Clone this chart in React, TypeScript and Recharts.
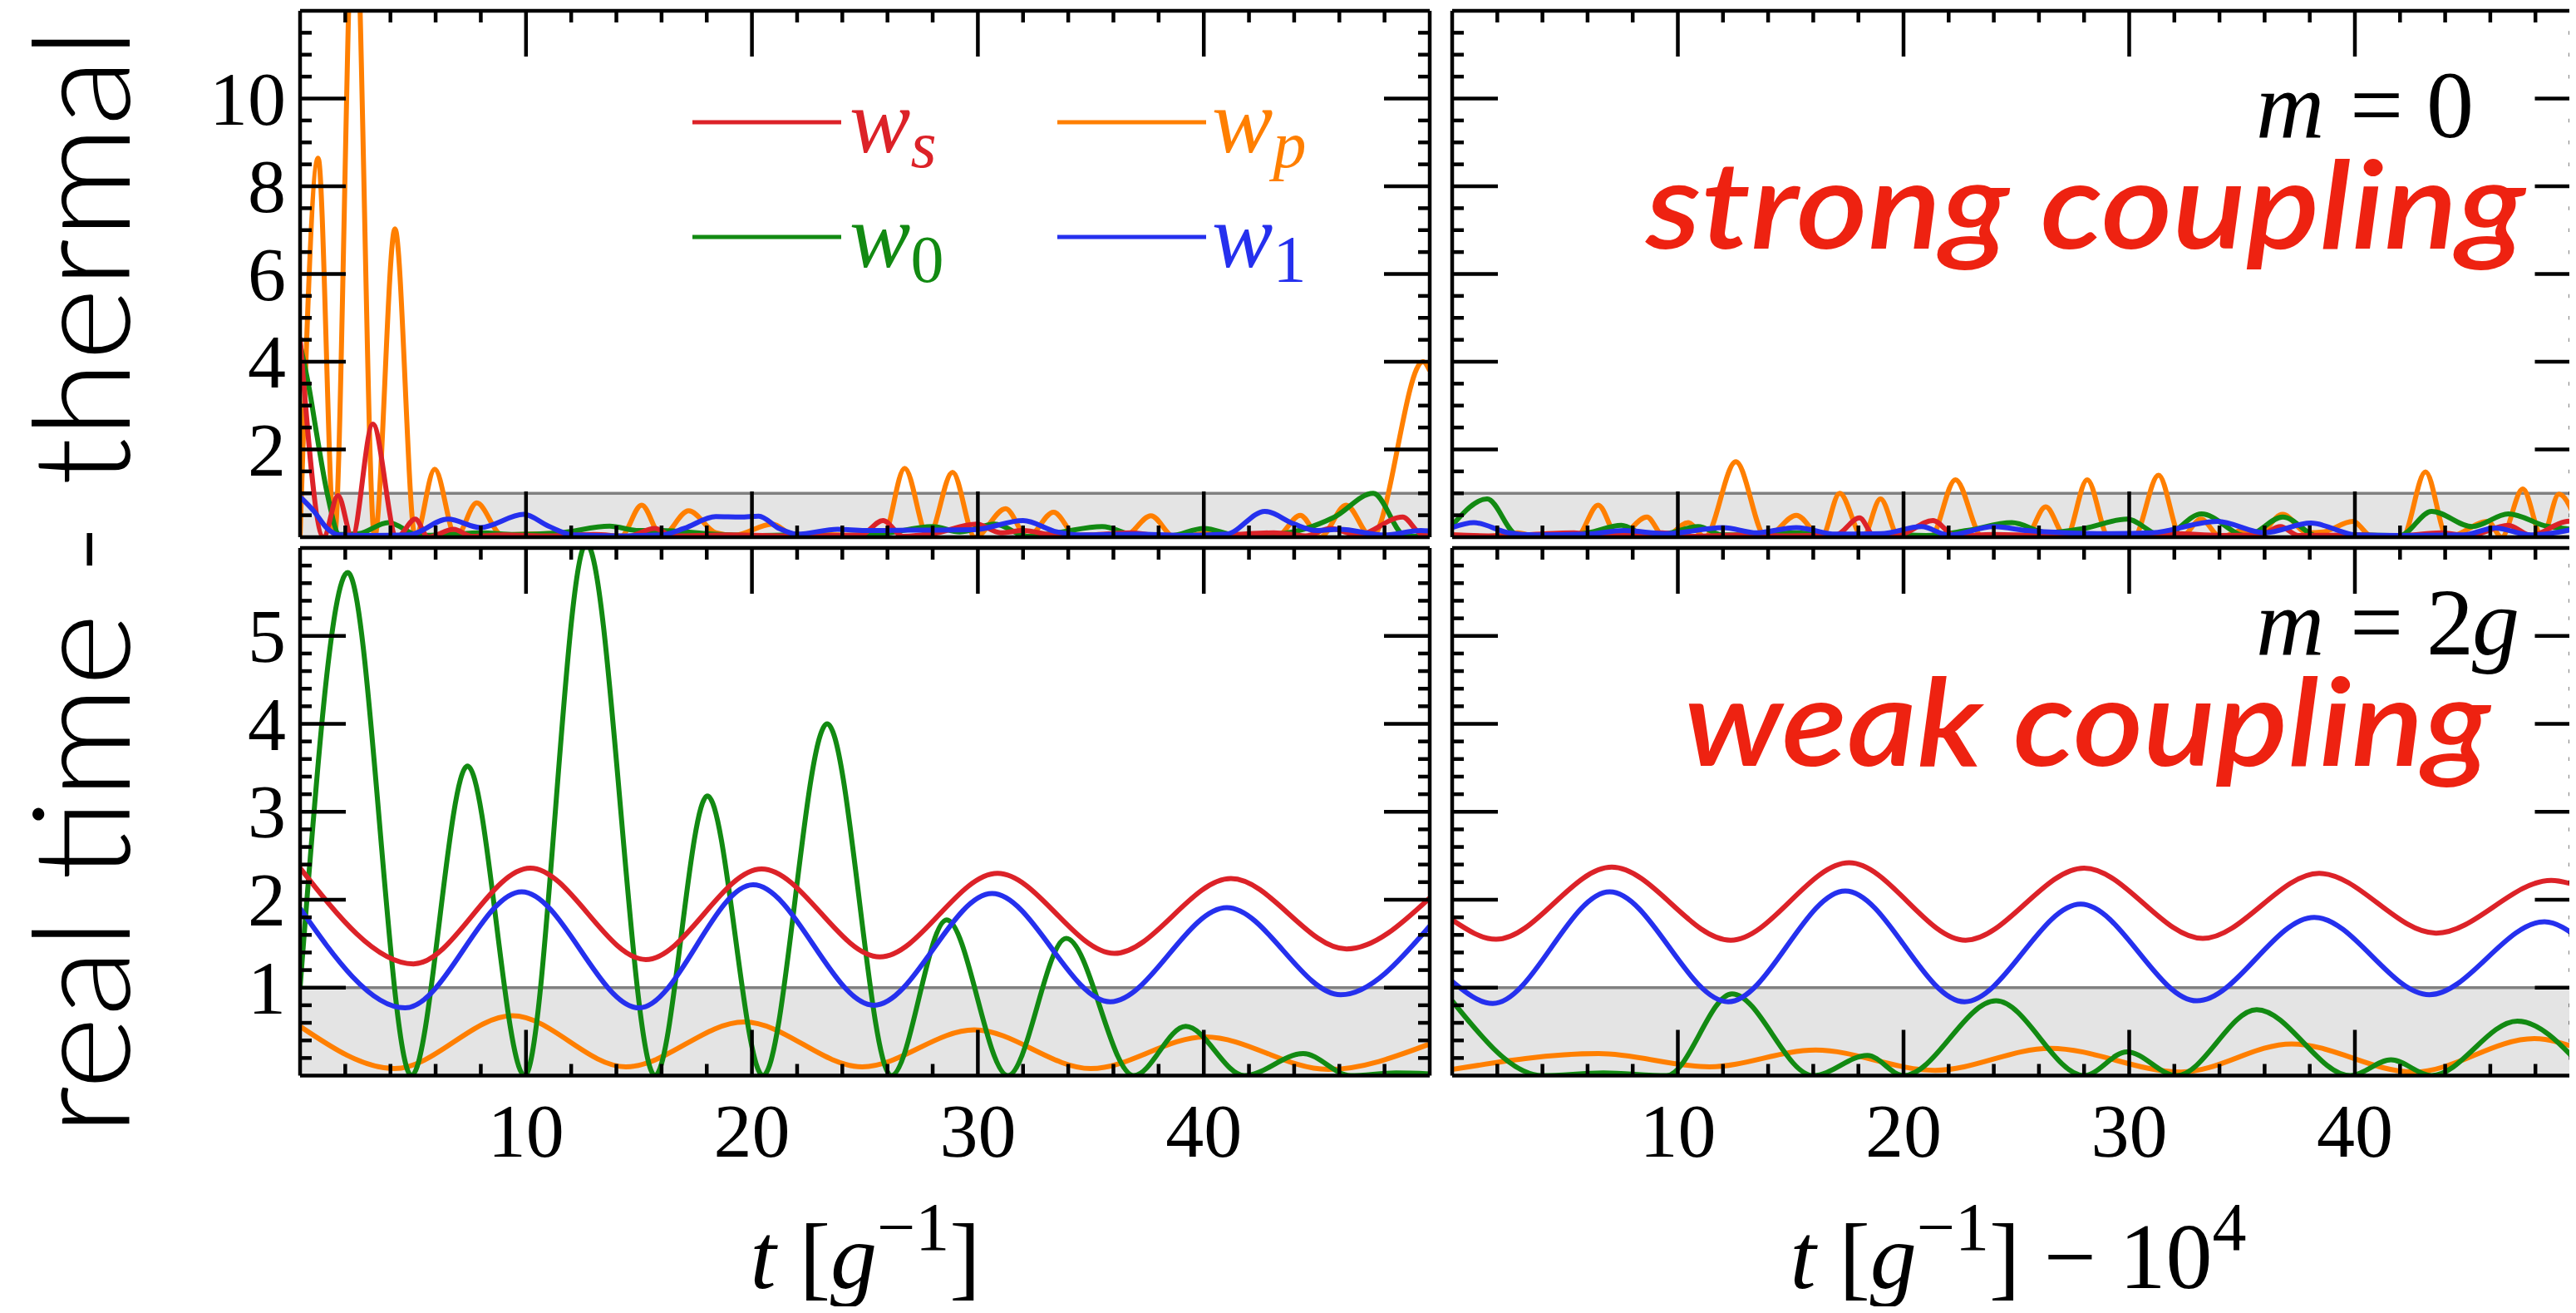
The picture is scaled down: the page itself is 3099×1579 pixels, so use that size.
import { LineChart, Line, XAxis, YAxis, ReferenceArea, ReferenceLine } from "recharts"

type Pt = [number, number]

const RED = "#dc2228"
const ORANGE = "#ff7f00"
const GREEN = "#128a12"
const BLUE = "#2530ee"
const TEXT_RED = "#ee2211"

// ---- tick values ----
const xTicks = [2, 4, 6, 8, 10, 12, 14, 16, 18, 20, 22, 24, 26, 28, 30, 32, 34, 36, 38, 40, 42, 44, 46, 48]
const xMajor = [10, 20, 30, 40]
const topYTicks = [0.5, 1, 1.5, 2, 2.5, 3, 3.5, 4, 4.5, 5, 5.5, 6, 6.5, 7, 7.5, 8, 8.5, 9, 9.5, 10, 10.5, 11, 11.5]
const topYMajor = [2, 4, 6, 8, 10]
const botYTicks = [0.2, 0.4, 0.6, 0.8, 1, 1.2, 1.4, 1.6, 1.8, 2, 2.2, 2.4, 2.6, 2.8, 3, 3.2, 3.4, 3.6, 3.8, 4, 4.2, 4.4, 4.6, 4.8, 5, 5.2, 5.4, 5.6, 5.8]
const botYMajor = [1, 2, 3, 4, 5]

// ---- m = 0, early times (top left) ----
const tlRed: Pt[] = [[0, 4.55], [1.04, 0], [1.68, 0.95], [2.3, 0], [3.22, 2.58], [4.28, 0], [5.1, 0.41], [5.67, 0], [6.8, 0.18], [7.6, 0.02], [9, 0.05], [11, 0.03], [13, 0.06], [14.5, 0.02], [15.7, 0.2], [16.5, 0.03], [19, 0.05], [22, 0.03], [24.8, 0.05], [25.8, 0.38], [26.7, 0.02], [28, 0.08], [29.95, 0.3], [31, 0.1], [32, 0.15], [33.5, 0.04], [35, 0.05], [36.8, 0.1], [38, 0.03], [41, 0.05], [43.1, 0.1], [44.5, 0.03], [45.6, 0.2], [46.8, 0.05], [48.8, 0.46], [49.6, 0.08], [50, 0.05]]
const tlOrange: Pt[] = [[0, 0], [0.8, 8.64], [1.52, 0], [2.4, 15], [3.3, 0], [4.2, 7.03], [5.1, 0], [5.96, 1.55], [6.9, 0], [7.82, 0.78], [8.94, 0.05], [11, 0.08], [12.5, 0.04], [14.2, 0.02], [15.12, 0.73], [16.0, 0.02], [17.2, 0.6], [18.4, 0.1], [19.2, 0.04], [20.9, 0.3], [21.9, 0.04], [23, 0.06], [25, 0.02], [25.8, 0], [26.76, 1.57], [27.8, 0], [28.88, 1.48], [29.87, 0], [31.23, 0.65], [32.2, 0], [33.35, 0.57], [34.4, 0], [36.5, 0.02], [37.66, 0.49], [38.7, 0], [40.4, 0.1], [42, 0.02], [43.2, 0], [44.27, 0.5], [45.15, 0], [46.3, 0.73], [47.43, 0], [49.7, 4.0], [50, 3.8]]
const tlGreen: Pt[] = [[0, 4.4], [0.4, 3.4], [0.72, 2.4], [1.2, 1.0], [1.75, 0.06], [2.6, 0.08], [3.9, 0.33], [5.3, 0.04], [6.5, 0.06], [8, 0.1], [9.5, 0.06], [11.5, 0.1], [13.7, 0.25], [15, 0.15], [16, 0.15], [18, 0.08], [20, 0.04], [22, 0.05], [24, 0.04], [25.5, 0.06], [28.0, 0.24], [29.2, 0.12], [30.75, 0.3], [32.2, 0.02], [33.5, 0.1], [35.5, 0.24], [37, 0.04], [38.5, 0.03], [40, 0.2], [41.5, 0.04], [43.4, 0.08], [45.75, 0.45], [47.5, 1.0], [48.95, 0.02], [50, 0.03]]
const tlBlue: Pt[] = [[0, 0.92], [0.6, 0.6], [1.2, 0.2], [1.75, 0.05], [3, 0.04], [4.8, 0.05], [6.55, 0.41], [7.98, 0.22], [9.9, 0.52], [11, 0.25], [12.1, 0.05], [14, 0.03], [16, 0.05], [17, 0.2], [18.4, 0.47], [19.5, 0.46], [20.3, 0.48], [21.2, 0.2], [22, 0.07], [23.8, 0.18], [25, 0.15], [27, 0.16], [29.8, 0.17], [32.0, 0.38], [33.5, 0.12], [34.6, 0.05], [37, 0.07], [39, 0.04], [41, 0.07], [42.7, 0.59], [44, 0.3], [45, 0.15], [46, 0.18], [48, 0.05], [49.6, 0.15], [50, 0.14]]

// ---- m = 0, late times (top right) ----
const trRed: Pt[] = [[0, 0.05], [2, 0.03], [5.4, 0.1], [6.5, 0.02], [9.3, 0.1], [10.5, 0.02], [13, 0.05], [15, 0.03], [17, 0.05], [18.05, 0.44], [18.7, 0.03], [19.8, 0.05], [21.3, 0.38], [22.3, 0.03], [24, 0.06], [26, 0.04], [28, 0.06], [30, 0.04], [32, 0.08], [34, 0.04], [35.8, 0.05], [36.7, 0.24], [37.5, 0.04], [40, 0.05], [42, 0.03], [43.8, 0.1], [45, 0.03], [46.8, 0.27], [47.8, 0.04], [49.3, 0.35], [50, 0.38]]
const trOrange: Pt[] = [[0, 0.05], [1.5, 0.02], [2.9, 0.1], [3.8, 0], [5.5, 0], [6.47, 0.73], [7.35, 0], [8.63, 0.46], [9.4, 0], [10.46, 0.33], [11.2, 0], [12.57, 1.72], [13.9, 0], [15.25, 0.5], [16.37, 0], [17.17, 1.0], [18.2, 0], [18.98, 0.87], [19.8, 0], [21.2, 0], [22.3, 1.31], [23.5, 0], [24.5, 0.02], [25.4, 0], [26.3, 0.69], [27.2, 0], [28.14, 1.31], [29.1, 0], [30.2, 0], [31.3, 1.41], [32.3, 0], [33.18, 0.41], [34.06, 0], [35, 0.15], [35.6, 0], [36.8, 0.52], [37.9, 0.1], [38.6, 0.12], [39.9, 0.36], [40.8, 0], [42.1, 0], [43.13, 1.49], [44.1, 0], [45.9, 0.36], [46.5, 0], [47.44, 1.1], [48.3, 0], [49.04, 0.98], [50, 0.1]]
const trGreen: Pt[] = [[0, 0.27], [1.55, 0.87], [2.9, 0.05], [4.5, 0.04], [6, 0.1], [7.5, 0.27], [8.6, 0.05], [9.5, 0.08], [10.9, 0.24], [12, 0.05], [13.5, 0.05], [15.25, 0.1], [17, 0.03], [19, 0.06], [21, 0.04], [22.8, 0.15], [24.8, 0.33], [26.4, 0.1], [28, 0.2], [29.9, 0.41], [31.5, 0.02], [33.2, 0.53], [35.2, 0.03], [36.8, 0.46], [38.4, 0.02], [40, 0.05], [42, 0.04], [43.4, 0.59], [45.2, 0.24], [46.8, 0.53], [48.5, 0.25], [50, 0.17]]
const trBlue: Pt[] = [[0, 0.22], [0.96, 0.33], [2.5, 0.1], [3.7, 0.05], [6, 0.07], [7.6, 0.15], [9.5, 0.08], [12, 0.22], [13.5, 0.1], [15.25, 0.22], [17, 0.07], [19, 0.08], [20.8, 0.24], [22, 0.05], [24, 0.24], [25.5, 0.15], [27.2, 0.1], [29, 0.08], [31, 0.1], [33.9, 0.36], [36, 0.1], [38.05, 0.32], [40.1, 0.05], [42, 0.04], [44.8, 0.05], [46.2, 0.21], [47.8, 0.05], [50, 0.22]]

// ---- m = 2g, early times (bottom left) ----
const blRed: Pt[] = [[0, 2.36], [5.02, 1.27], [10.19, 2.36], [15.3, 1.32], [20.43, 2.35], [25.66, 1.35], [30.87, 2.3], [36.04, 1.39], [41.2, 2.24], [46.32, 1.44], [50, 2.02]]
const blOrange: Pt[] = [[0, 0.56], [4.18, 0.08], [9.4, 0.68], [14.42, 0.1], [19.66, 0.61], [24.88, 0.1], [29.84, 0.52], [35.0, 0.08], [40.06, 0.44], [45.5, 0.07], [50, 0.36]]
const blGreen: Pt[] = [[0, 1.0], [2.11, 5.72], [4.93, 0], [7.41, 3.52], [9.94, 0], [12.67, 6.05], [15.71, 0], [18.03, 3.18], [20.49, 0], [23.33, 4.0], [26.17, 0], [28.62, 1.77], [31.33, 0], [33.91, 1.56], [36.9, 0], [39.2, 0.56], [41.8, 0], [44.4, 0.25], [46.5, 0], [48.5, 0.03], [50, 0.02]]
const blBlue: Pt[] = [[0, 1.9], [4.65, 0.77], [9.81, 2.09], [15.0, 0.77], [20.05, 2.17], [25.4, 0.8], [30.63, 2.07], [35.86, 0.84], [41.02, 1.91], [46.06, 0.92], [50, 1.7]]

// ---- m = 2g, late times (bottom right) ----
const brRed: Pt[] = [[0, 1.77], [1.95, 1.55], [7.07, 2.37], [12.34, 1.54], [17.59, 2.42], [22.75, 1.54], [28.0, 2.36], [33.26, 1.56], [38.42, 2.3], [43.6, 1.62], [48.7, 2.22], [50, 2.15]]
const brOrange: Pt[] = [[0, 0.07], [6.49, 0.25], [11.4, 0.1], [16.1, 0.29], [21.4, 0.06], [26.5, 0.31], [32.3, 0.04], [37.2, 0.36], [42.6, 0.04], [47.95, 0.42], [50, 0.3]]
const brGreen: Pt[] = [[0, 0.85], [4.0, 0], [6.7, 0.03], [9.5, 0], [12.4, 0.93], [16.0, 0], [18.4, 0.23], [20.0, 0], [24.1, 0.85], [28.0, 0], [29.9, 0.27], [32.1, 0], [35.65, 0.75], [39.8, 0], [41.6, 0.18], [43.4, 0], [47.2, 0.62], [50, 0.12]]
const brBlue: Pt[] = [[0, 1.07], [1.8, 0.82], [6.98, 2.09], [12.23, 0.84], [17.42, 2.1], [22.7, 0.84], [27.85, 1.95], [33.0, 0.85], [38.2, 1.8], [43.3, 0.92], [48.4, 1.75], [50, 1.55]]

const legendItems = [
    { base: "w", sub: "s", subItalic: true, color: RED },
    { base: "w", sub: "p", subItalic: true, color: ORANGE },
    { base: "w", sub: "0", subItalic: false, color: GREEN },
    { base: "w", sub: "1", subItalic: false, color: BLUE },
]

const SERIF = "'Liberation Serif', 'Times New Roman', serif"
const SANS = "Lato, 'Open Sans', sans-serif"
const FRAME = 4.5

const toPts = (arr: Pt[]) => arr.map(([t, v]) => ({ t, v }))

type Side = "left" | "right" | "top" | "bottom"

const makeTick = (side: Side, majors: number[], labelled: boolean) => (props: any) => {
    const { x, y, payload } = props
    const val = payload.value
    const major = majors.includes(val)
    const len = major ? 55 : 14
    let x2 = x
    let y2 = y
    if (side === "left") x2 = x + len
    if (side === "right") x2 = x - len
    if (side === "top") y2 = y + len
    if (side === "bottom") y2 = y - len
    return (
        <g>
            <line x1={x} y1={y} x2={x2} y2={y2} stroke="#000" strokeWidth={FRAME} />
            {labelled && major && side === "left" && (
                <text x={x - 17} y={y + 31} textAnchor="end" fontFamily={SERIF} fontSize={92} fill="#000">
                    {val}
                </text>
            )}
            {labelled && major && side === "bottom" && (
                <text x={x} y={y + 97} textAnchor="middle" fontFamily={SERIF} fontSize={92} fill="#000">
                    {val}
                </text>
            )}
        </g>
    )
}

interface PanelProps {
    left: number
    top: number
    width: number
    height: number
    margin: { top: number; right: number; bottom: number; left: number }
    yMax: number
    yTicks: number[]
    yMajor: number[]
    yLabels: boolean
    xLabels: boolean
    red: Pt[]
    orange: Pt[]
    green: Pt[]
    blue: Pt[]
}

function Panel(p: PanelProps) {
    const axisLine = { stroke: "#000", strokeWidth: FRAME }
    const lw = 6
    return (
        <div style={{ position: "absolute", left: p.left, top: p.top }}>
            <LineChart width={p.width} height={p.height} margin={p.margin}>
                <ReferenceArea y1={0} y2={1} fill="#e4e4e4" fillOpacity={1} stroke="none" />
                <ReferenceLine y={1} stroke="#808080" strokeWidth={3.5} />
                <Line data={toPts(p.orange)} dataKey="v" type="monotone" stroke={ORANGE} strokeWidth={lw} dot={false} isAnimationActive={false} />
                <Line data={toPts(p.green)} dataKey="v" type="monotone" stroke={GREEN} strokeWidth={lw} dot={false} isAnimationActive={false} />
                <Line data={toPts(p.red)} dataKey="v" type="monotone" stroke={RED} strokeWidth={lw} dot={false} isAnimationActive={false} />
                <Line data={toPts(p.blue)} dataKey="v" type="monotone" stroke={BLUE} strokeWidth={lw} dot={false} isAnimationActive={false} />
                <XAxis dataKey="t" type="number" domain={[0, 50]} allowDataOverflow ticks={xTicks} interval={0} height={1}
                    tickSize={0} tickMargin={0} tickLine={false} axisLine={axisLine} tick={makeTick("bottom", xMajor, p.xLabels)} />
                <XAxis xAxisId="top" orientation="top" dataKey="t" type="number" domain={[0, 50]} allowDataOverflow ticks={xTicks} interval={0} height={1}
                    tickSize={0} tickMargin={0} tickLine={false} axisLine={axisLine} tick={makeTick("top", xMajor, false)} />
                <YAxis type="number" domain={[0, p.yMax]} allowDataOverflow ticks={p.yTicks} interval={0} width={1}
                    tickSize={0} tickMargin={0} tickLine={false} axisLine={axisLine} tick={makeTick("left", p.yMajor, p.yLabels)} />
                <YAxis yAxisId="right" orientation="right" type="number" domain={[0, p.yMax]} allowDataOverflow ticks={p.yTicks} interval={0} width={1}
                    tickSize={0} tickMargin={0} tickLine={false} axisLine={axisLine} tick={makeTick("right", p.yMajor, false)} />
            </LineChart>
        </div>
    )
}

function Overlay() {
    const legendPos = [
        { lx: 833, tx: 1022, ly: 147, by: 183 },
        { lx: 1272, tx: 1458, ly: 147, by: 183 },
        { lx: 833, tx: 1022, ly: 285, by: 321 },
        { lx: 1272, tx: 1458, ly: 285, by: 321 },
    ]
    return (
        <svg width={3099} height={1579} style={{ position: "absolute", left: 0, top: 0, pointerEvents: "none" }}>
            {/* y title */}
            <text transform="translate(156,1365) rotate(-90)" fontFamily={SANS} fontWeight={300}
                fontSize={162} fill="#000" textLength={1332} lengthAdjust="spacingAndGlyphs">
                real time - thermal
            </text>

            {/* legend */}
            {legendItems.map((it, i) => {
                const pos = legendPos[i]
                return (
                    <g key={i}>
                        <line x1={pos.lx} x2={pos.lx + 179} y1={pos.ly} y2={pos.ly} stroke={it.color} strokeWidth={5} />
                        <text x={pos.tx} y={pos.by} fontFamily={SERIF} fontSize={110} fill={it.color}>
                            <tspan fontStyle="italic">{it.base}</tspan>
                            <tspan fontSize={80} dy={18} fontStyle={it.subItalic ? "italic" : "normal"}>{it.sub}</tspan>
                        </text>
                    </g>
                )
            })}

            {/* annotations */}
            <g fontFamily={SERIF} fontSize={114} fill="#000">
                <text x={2714} y={165} fontStyle="italic">m</text>
                <text x={2827} y={165}>=</text>
                <text x={2919} y={165}>0</text>
                <text x={2714} y={787} fontStyle="italic">m</text>
                <text x={2827} y={787}>=</text>
                <text x={2919} y={787}>2</text>
                <text x={2974} y={787} fontStyle="italic">g</text>
            </g>
            <text x={1980} y={299} fontFamily={SANS} fontStyle="italic" fontWeight={600}
                fontSize={146} fill={TEXT_RED} textLength={1058} lengthAdjust="spacingAndGlyphs">
                strong coupling
            </text>
            <text x={2026} y={921} fontFamily={SANS} fontStyle="italic" fontWeight={600}
                fontSize={146} fill={TEXT_RED} textLength={970} lengthAdjust="spacingAndGlyphs">
                weak coupling
            </text>

            {/* x titles */}
            <text x={1041} y={1549} textAnchor="middle" fontFamily={SERIF} fontSize={112} fill="#000">
                <tspan fontStyle="italic">t</tspan>
                <tspan> [</tspan>
                <tspan fontStyle="italic">g</tspan>
                <tspan fontSize={82} dy={-46}>−1</tspan>
                <tspan dy={46}>]</tspan>
            </text>
            <text x={2428} y={1549} textAnchor="middle" fontFamily={SERIF} fontSize={112} fill="#000">
                <tspan fontStyle="italic">t</tspan>
                <tspan> [</tspan>
                <tspan fontStyle="italic">g</tspan>
                <tspan fontSize={82} dy={-46}>−1</tspan>
                <tspan dy={46}>] − 10</tspan>
                <tspan fontSize={82} dy={-46}>4</tspan>
            </text>
        </svg>
    )
}

export default function App() {
    return (
        <div style={{ position: "relative", margin: -8, width: 3099, height: 1579, overflow: "hidden", background: "#fff" }}>
            <Panel left={200} top={0} width={1530} height={660} margin={{ top: 12, right: 9, bottom: 13, left: 160 }}
                yMax={12} yTicks={topYTicks} yMajor={topYMajor} yLabels xLabels={false}
                red={tlRed} orange={tlOrange} green={tlGreen} blue={tlBlue} />
            <Panel left={1730} top={0} width={1380} height={660} margin={{ top: 12, right: 4.5, bottom: 13, left: 16 }}
                yMax={12} yTicks={topYTicks} yMajor={topYMajor} yLabels={false} xLabels={false}
                red={trRed} orange={trOrange} green={trGreen} blue={trBlue} />
            <Panel left={200} top={647} width={1530} height={932} margin={{ top: 11, right: 9, bottom: 284.5, left: 160 }}
                yMax={6} yTicks={botYTicks} yMajor={botYMajor} yLabels xLabels
                red={blRed} orange={blOrange} green={blGreen} blue={blBlue} />
            <Panel left={1730} top={647} width={1380} height={932} margin={{ top: 11, right: 4.5, bottom: 284.5, left: 16 }}
                yMax={6} yTicks={botYTicks} yMajor={botYMajor} yLabels={false} xLabels
                red={brRed} orange={brOrange} green={brGreen} blue={brBlue} />
            <Overlay />
        </div>
    )
}
